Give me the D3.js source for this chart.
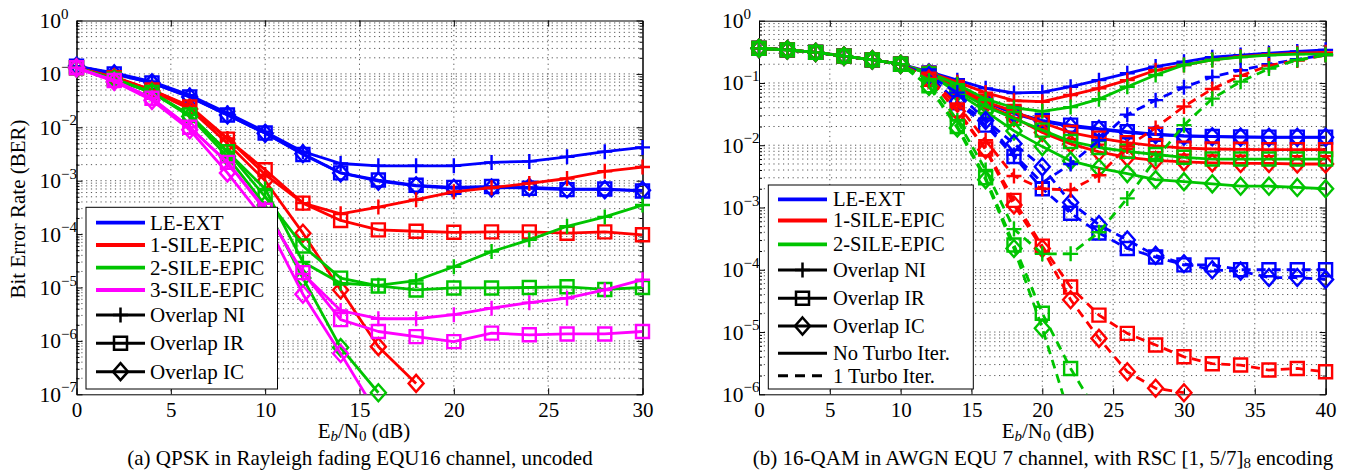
<!DOCTYPE html>
<html><head><meta charset="utf-8">
<script src="https://cdn.jsdelivr.net/npm/d3@7/dist/d3.min.js"></script>
<style>
html,body{margin:0;padding:0;background:#fff;}
svg{display:block;}
svg text{font-family:"Liberation Serif","Tinos","Times New Roman",serif;}
</style></head><body>
<svg id="chart" width="1348" height="470"></svg>
<script>
// ---------------- DATA: panel (a) ----------------
const ebnoA = [0,2,4,6,8,10,12,14,16,18,20,22,24,26,28,30];
const xTicksA = [0,5,10,15,20,25,30];
const yExpA = [0,-1,-2,-3,-4,-5,-6,-7];

const aLE_NI = [0.14,0.105,0.072,0.04,0.0185,0.0083,0.0035,0.0021,0.0019,0.0019,0.0019,0.0022,0.0023,0.0028,0.0035,0.0042];
const aLE_IR = [0.14,0.1,0.068,0.037,0.017,0.0078,0.0031,0.0014,0.00103,0.00082,0.00075,0.00078,0.00072,0.00068,0.0007,0.00064];
const aLE_IC = [0.14,0.1,0.068,0.037,0.017,0.0077,0.0032,0.0014,0.00098,0.0008,0.00072,0.00073,0.00075,0.0007,0.00068,0.00066];

const a1_NI = [0.13,0.088,0.05,0.025,0.0062,0.0013,0.00038,0.00024,0.00032,0.00044,0.00062,0.00074,0.00089,0.0011,0.0015,0.0018];
const a1_IR = [0.13,0.085,0.05,0.024,0.006,0.0016,0.00038,0.00018,0.00012,0.000113,0.000108,0.00011,0.00011,0.000104,0.00011,0.000097];
const a1_IC = [0.13,0.085,0.048,0.022,0.005,0.001,0.000104,0.000009,0.00000078,0.00000016,null,null,null,null,null,null];

const a2_NI = [0.13,0.08,0.045,0.017,0.0035,0.0007,0.00003,0.000012,0.000011,0.0000135,0.0000245,0.000047,0.000078,0.00014,0.00021,0.00035];
const a2_IR = [0.13,0.08,0.045,0.017,0.0035,0.0005,0.00006,0.000015,0.0000107,0.000009,0.0000098,0.0000098,0.00001,0.0000103,0.0000092,0.00001];
const a2_IC = [0.13,0.08,0.045,0.016,0.0028,0.00035,0.000015,0.00000075,0.000000107,null,null,null,null,null,null,null];

const a3_NI = [0.13,0.075,0.035,0.01,0.0022,0.0003,0.000018,0.0000037,0.0000026,0.0000026,0.0000031,0.0000041,0.0000052,0.0000063,0.000009,0.000014];
const a3_IR = [0.13,0.075,0.035,0.01,0.0022,0.00028,0.000019,0.0000025,0.0000015,0.0000012,0.00000097,0.0000014,0.0000013,0.00000135,0.00000135,0.0000015];
const a3_IC = [0.13,0.072,0.032,0.009,0.0014,0.00018,0.0000075,0.00000058,0.00000004,null,null,null,null,null,null,null];

// ---------------- DATA: panel (b) ----------------
const ebnoB = [0,2,4,6,8,10,12,14,16,18,20,22,24,26,28,30,32,34,36,38,40];
const xTicksB = [0,5,10,15,20,25,30,35,40];
const yExpB = [0,-1,-2,-3,-4,-5,-6];

// No turbo iteration (solid)
const bLE_NI_s = [0.36,0.34,0.31,0.27,0.235,0.2,0.152,0.111,0.082,0.069,0.071,0.087,0.111,0.143,0.183,0.219,0.26,0.28,0.30,0.32,0.34];
const bLE_IR_s = [0.36,0.34,0.31,0.27,0.235,0.2,0.145,0.09,0.05,0.033,0.025,0.021,0.0185,0.0165,0.015,0.0142,0.0138,0.0136,0.0135,0.0135,0.0135];
const bLE_IC_s = [0.36,0.34,0.31,0.27,0.235,0.2,0.145,0.09,0.05,0.032,0.024,0.02,0.018,0.016,0.0148,0.014,0.0137,0.0135,0.0134,0.0134,0.0134];
const b1_NI_s = [0.36,0.34,0.31,0.27,0.235,0.2,0.148,0.103,0.07,0.052,0.05,0.064,0.082,0.111,0.16,0.194,0.234,0.264,0.284,0.30,0.31];
const b1_IR_s = [0.36,0.34,0.31,0.27,0.235,0.2,0.142,0.085,0.05,0.035,0.023,0.016,0.013,0.011,0.0098,0.009,0.0087,0.0086,0.0085,0.0085,0.0085];
const b1_IC_s = [0.36,0.34,0.31,0.27,0.235,0.2,0.142,0.08,0.045,0.028,0.016,0.0105,0.0078,0.0064,0.0057,0.0054,0.0052,0.0051,0.0051,0.005,0.005];
const b2_NI_s = [0.36,0.34,0.31,0.27,0.235,0.2,0.145,0.095,0.055,0.04,0.035,0.041,0.055,0.087,0.134,0.194,0.234,0.26,0.28,0.29,0.29];
const b2_IR_s = [0.36,0.34,0.31,0.27,0.235,0.2,0.14,0.075,0.042,0.027,0.0175,0.0115,0.0092,0.008,0.0071,0.0064,0.006,0.006,0.006,0.006,0.006];
const b2_IC_s = [0.36,0.34,0.31,0.27,0.235,0.2,0.14,0.07,0.035,0.017,0.0095,0.0056,0.0043,0.0035,0.0028,0.0026,0.0024,0.0022,0.0022,0.0021,0.002];

// 1 turbo iteration (dashed)
const bLE_NI_d = [0.36,0.34,0.31,0.27,0.235,0.2,0.13,0.07,0.025,0.007,0.0025,0.005,0.012,0.031,0.053,0.085,0.125,0.16,0.2,0.24,0.28];
const bLE_IR_d = [0.36,0.34,0.31,0.27,0.235,0.2,0.13,0.048,0.021,0.0066,0.002,0.00081,0.00039,0.00022,0.00016,0.00012,0.00012,0.0001,0.0001,0.0001,0.0001];
const bLE_IC_d = [0.36,0.34,0.31,0.27,0.235,0.2,0.13,0.05,0.025,0.0106,0.0045,0.0012,0.00053,0.0003,0.00017,0.000125,0.0001,0.000095,0.000075,0.000075,0.00007];
const b1_NI_d = [0.36,0.34,0.31,0.27,0.235,0.2,0.12,0.045,0.012,0.0032,0.002,0.0019,0.0033,0.0095,0.019,0.042,0.08,0.13,0.19,0.23,0.28];
const b1_IR_d = [0.36,0.34,0.31,0.27,0.235,0.2,0.115,0.037,0.0087,0.0013,0.00024,0.000053,0.0000187,0.0000095,0.0000062,0.000004,0.0000031,0.00000295,0.00000245,0.0000026,0.0000023];
const b1_IC_d = [0.36,0.34,0.31,0.27,0.235,0.2,0.115,0.035,0.0085,0.0011,0.00022,0.000033,0.0000079,0.0000023,0.00000125,0.00000106,null,null,null,null,null];
const b2_NI_d = [0.36,0.34,0.31,0.27,0.235,0.2,0.11,0.025,0.004,0.00045,0.00018,0.00018,0.0004,0.0014,0.006,0.021,0.056,0.105,0.17,0.234,0.28];
const b2_IR_d = [0.36,0.34,0.31,0.27,0.235,0.2,0.09,0.02,0.003,0.00025,0.00002,0.0000026,0.00000045,null,null,null,null,null,null,null,null];
const b2_IC_d = [0.36,0.34,0.31,0.27,0.235,0.2,0.088,0.019,0.0028,0.00022,0.0000115,0.0000004,null,null,null,null,null,null,null,null,null];

// ---------------- STYLE ----------------
const COL = {LE:"#0000ff", S1:"#ff0000", S2:"#00c400", S3:"#ff00ff"};
const FONT = "Liberation Serif, Tinos, Times New Roman, serif";
const svg = d3.select("#chart");

function markerPath(t){
  if(t==="plus") return "M-7.5,0H7.5M0,-7.5V7.5";
  if(t==="square") return "M-6.5,-6.5H6.5V6.5H-6.5Z";
  return "M0,-8.5L7.5,0L0,8.5L-7.5,0Z";
}

function panel(cfg){
  const g = svg.append("g");
  const x = d3.scaleLinear().domain(cfg.xDomain).range([cfg.left,cfg.right]);
  const y = d3.scaleLog().domain(cfg.yDomain).range([cfg.bottom,cfg.top]);
  const clipId = cfg.id+"-clip";
  svg.append("defs").append("clipPath").attr("id",clipId).append("rect")
    .attr("x",cfg.left).attr("y",cfg.top).attr("width",cfg.right-cfg.left).attr("height",cfg.bottom-cfg.top);

  const majors = cfg.yExp.map(e=>Math.pow(10,e));
  const minors = [];
  cfg.yExp.forEach(e=>{ if(e<0) for(let k=2;k<=9;k++) minors.push(k*Math.pow(10,e)); });

  // grid
  const grid = g.append("g").attr("stroke","#444").attr("stroke-width",0.9).attr("stroke-dasharray","1.2,3.6");
  grid.selectAll("line.h").data(minors.concat(majors.filter(v=>v<cfg.yDomain[1] && v>cfg.yDomain[0]))).join("line")
    .attr("x1",cfg.left).attr("x2",cfg.right).attr("y1",d=>y(d)).attr("y2",d=>y(d));
  grid.selectAll("line.v").data(cfg.xTicks.filter(v=>v>cfg.xDomain[0]&&v<cfg.xDomain[1])).join("line")
    .attr("x1",d=>x(d)).attr("x2",d=>x(d)).attr("y1",cfg.top).attr("y2",cfg.bottom);

  // axes
  const styleAxis = sel=>sel.attr("font-family",FONT).attr("font-size",21).call(s=>s.selectAll("line,path").attr("stroke","#000"));
  g.append("g").attr("transform",`translate(0,${cfg.bottom})`)
    .call(d3.axisBottom(x).tickValues(cfg.xTicks).tickSize(-6).tickSizeOuter(0).tickPadding(8)).call(styleAxis);
  g.append("g").attr("transform",`translate(0,${cfg.top})`)
    .call(d3.axisTop(x).tickValues(cfg.xTicks).tickSize(-6).tickSizeOuter(0).tickFormat(()=>"")).call(styleAxis);
  g.append("g").attr("transform",`translate(${cfg.left},0)`)
    .call(d3.axisLeft(y).tickValues(majors).tickSize(-6).tickSizeOuter(0).tickFormat(()=>"")).call(styleAxis);
  g.append("g").attr("transform",`translate(${cfg.left},0)`)
    .call(d3.axisLeft(y).tickValues(minors).tickSize(-3).tickSizeOuter(0).tickFormat(()=>"")).call(styleAxis);
  g.append("g").attr("transform",`translate(${cfg.right},0)`)
    .call(d3.axisRight(y).tickValues(majors).tickSize(-6).tickSizeOuter(0).tickFormat(()=>"")).call(styleAxis);
  g.append("g").attr("transform",`translate(${cfg.right},0)`)
    .call(d3.axisRight(y).tickValues(minors).tickSize(-3).tickSizeOuter(0).tickFormat(()=>"")).call(styleAxis);

  // y tick labels 10^e
  const yl = g.append("g").attr("font-family",FONT).attr("fill","#000");
  cfg.yExp.forEach(e=>{
    const yy = y(Math.pow(10,e));
    yl.append("text").attr("x",cfg.left-15.5).attr("y",yy+7.5).attr("text-anchor","end").attr("font-size",21.5).text("10");
    yl.append("text").attr("x",cfg.left-15.5).attr("y",yy-2).attr("font-size",15).text(e===0?"0":"\u2212"+(-e));
  });

  // curves
  const line = d3.line().defined(d=>d[1]!=null).x(d=>x(d[0])).y(d=>y(d[1]));
  const cg = g.append("g");
  cfg.series.forEach(s=>{
    const pts = cfg.xs.map((xv,i)=>[xv,s.values[i]]);
    cg.append("path").attr("d",line(pts)).attr("fill","none").attr("stroke",s.color)
      .attr("stroke-width",2.8).attr("stroke-dasharray",s.dash?"9,6":null).attr("clip-path",`url(#${clipId})`)
      .attr("stroke-linejoin","round");
    cg.append("g").selectAll("path").data(pts.filter(d=>d[1]!=null && d[1]>=cfg.yDomain[0]*0.999)).join("path")
      .attr("transform",d=>`translate(${x(d[0])},${y(d[1])})`).attr("d",markerPath(s.marker))
      .attr("fill","none").attr("stroke",s.color).attr("stroke-width",2.4);
  });

  // legend
  const L = cfg.legend;
  const lg = g.append("g");
  lg.append("rect").attr("x",L.x0).attr("y",L.y0).attr("width",L.x1-L.x0).attr("height",L.y1-L.y0)
    .attr("fill","#fff").attr("stroke","#000").attr("stroke-width",1);
  L.items.forEach((it,i)=>{
    const yy = L.ys[i];
    lg.append("line").attr("x1",L.lx0).attr("x2",L.lx1).attr("y1",yy).attr("y2",yy)
      .attr("stroke",it.color).attr("stroke-width",it.marker||it.dash!==undefined?3:3.8).attr("stroke-dasharray",it.dash?"10,7":null);
    if(it.marker) lg.append("path").attr("transform",`translate(${(L.lx0+L.lx1)/2},${yy})`)
      .attr("d",markerPath(it.marker)).attr("fill","none").attr("stroke","#000").attr("stroke-width",2.5);
    lg.append("text").attr("x",L.tx).attr("y",yy+6.8).attr("font-family",FONT).attr("font-size",L.fs).text(it.label);
  });

  // x label
  const xl = g.append("text").attr("x",cfg.xLabelX).attr("y",438).attr("text-anchor","middle").attr("font-family",FONT).attr("font-size",21);
  xl.append("tspan").text("E");
  xl.append("tspan").attr("font-style","italic").attr("font-size",15).attr("dy",3).text("b");
  xl.append("tspan").attr("dy",-3).text("/N");
  xl.append("tspan").attr("font-size",15).attr("dy",3).text("0");
  xl.append("tspan").attr("dy",-3).text(" (dB)");
  return {x,y};
}

// panel (a)
panel({
  id:"pa", xDomain:[0,30], yDomain:[1e-7,1], left:76.5, right:642.5, top:20.5, bottom:394.3,
  xTicks:xTicksA, yExp:yExpA, xs:ebnoA, xLabelX:364,
  series:[
    {values:aLE_NI,color:COL.LE,marker:"plus"},{values:aLE_IR,color:COL.LE,marker:"square"},{values:aLE_IC,color:COL.LE,marker:"diamond"},
    {values:a1_NI,color:COL.S1,marker:"plus"},{values:a1_IR,color:COL.S1,marker:"square"},{values:a1_IC,color:COL.S1,marker:"diamond"},
    {values:a2_NI,color:COL.S2,marker:"plus"},{values:a2_IR,color:COL.S2,marker:"square"},{values:a2_IC,color:COL.S2,marker:"diamond"},
    {values:a3_NI,color:COL.S3,marker:"plus"},{values:a3_IR,color:COL.S3,marker:"square"},{values:a3_IC,color:COL.S3,marker:"diamond"}
  ],
  legend:{x0:86,x1:277.5,y0:207.3,y1:389,lx0:96,lx1:145,tx:150,fs:21,
    ys:[222.7,245,267.7,290,315,343.3,371.7],
    items:[{label:"LE-EXT",color:COL.LE},{label:"1-SILE-EPIC",color:COL.S1},{label:"2-SILE-EPIC",color:COL.S2},{label:"3-SILE-EPIC",color:COL.S3},
      {label:"Overlap NI",color:"#000",marker:"plus"},{label:"Overlap IR",color:"#000",marker:"square"},{label:"Overlap IC",color:"#000",marker:"diamond"}]}
});

// panel (b)
panel({
  id:"pb", xDomain:[0,40], yDomain:[1e-6,1], left:759, right:1325.6, top:20.7, bottom:394.3,
  xTicks:xTicksB, yExp:yExpB, xs:ebnoB, xLabelX:1048,
  series:[
    {values:bLE_NI_s,color:COL.LE,marker:"plus"},{values:bLE_IR_s,color:COL.LE,marker:"square"},{values:bLE_IC_s,color:COL.LE,marker:"diamond"},
    {values:b1_NI_s,color:COL.S1,marker:"plus"},{values:b1_IR_s,color:COL.S1,marker:"square"},{values:b1_IC_s,color:COL.S1,marker:"diamond"},
    {values:b2_NI_s,color:COL.S2,marker:"plus"},{values:b2_IR_s,color:COL.S2,marker:"square"},{values:b2_IC_s,color:COL.S2,marker:"diamond"},
    {values:bLE_NI_d,color:COL.LE,marker:"plus",dash:true},{values:bLE_IR_d,color:COL.LE,marker:"square",dash:true},{values:bLE_IC_d,color:COL.LE,marker:"diamond",dash:true},
    {values:b1_NI_d,color:COL.S1,marker:"plus",dash:true},{values:b1_IR_d,color:COL.S1,marker:"square",dash:true},{values:b1_IC_d,color:COL.S1,marker:"diamond",dash:true},
    {values:b2_NI_d,color:COL.S2,marker:"plus",dash:true},{values:b2_IR_d,color:COL.S2,marker:"square",dash:true},{values:b2_IC_d,color:COL.S2,marker:"diamond",dash:true}
  ],
  legend:{x0:768.3,x1:973.3,y0:185,y1:389,lx0:778,lx1:827,tx:833,fs:20.5,
    ys:[199.3,220.5,244.3,270,298.3,326,353.3,375.7],
    items:[{label:"LE-EXT",color:COL.LE},{label:"1-SILE-EPIC",color:COL.S1},{label:"2-SILE-EPIC",color:COL.S2},
      {label:"Overlap NI",color:"#000",marker:"plus"},{label:"Overlap IR",color:"#000",marker:"square"},{label:"Overlap IC",color:"#000",marker:"diamond"},
      {label:"No Turbo Iter.",color:"#000",dash:false},{label:"1 Turbo Iter.",color:"#000",dash:true}]}
});

// y-axis label
svg.append("text").attr("transform","translate(25,209) rotate(-90)").attr("text-anchor","middle")
  .attr("font-family",FONT).attr("font-size",21).text("Bit Error Rate (BER)");

// captions
svg.append("text").attr("x",360).attr("y",465).attr("text-anchor","middle").attr("font-family",FONT).attr("font-size",21)
  .text("(a) QPSK in Rayleigh fading EQU16 channel, uncoded");
const capB = svg.append("text").attr("x",1043).attr("y",465).attr("text-anchor","middle").attr("font-family",FONT).attr("font-size",21);
capB.append("tspan").text("(b) 16-QAM in AWGN EQU 7 channel, with RSC [1, 5/7]");
capB.append("tspan").attr("font-size",15).attr("dy",3).text("8");
capB.append("tspan").attr("dy",-3).text(" encoding");
</script>
</body></html>
